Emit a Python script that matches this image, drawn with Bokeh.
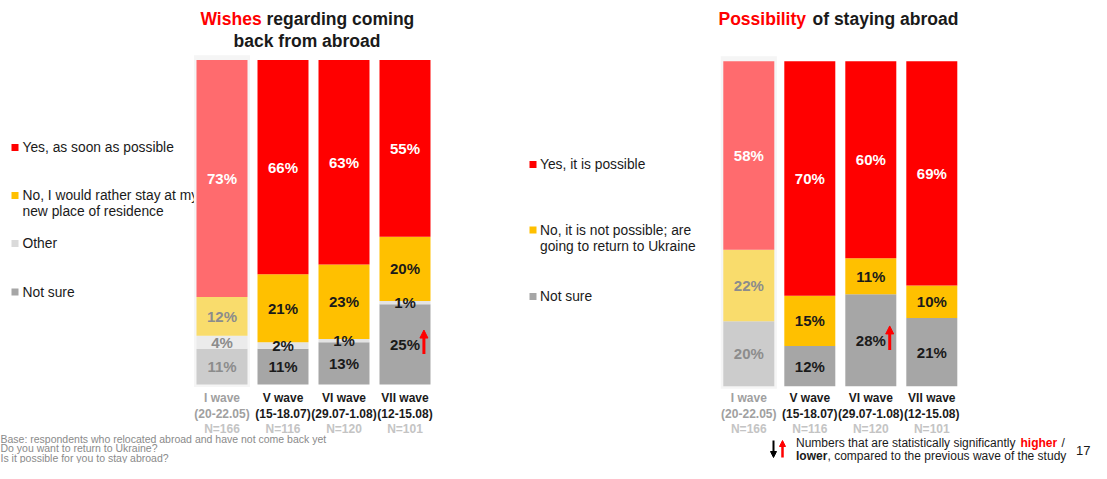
import numpy as np
from bokeh.plotting import figure
from bokeh.models import Range1d, ColumnDataSource, Arrow, NormalHead
from bokeh.embed import file_html
from bokeh.resources import INLINE
from bokeh.core.properties import value

# ---------------- data ----------------
waves = ["I wave", "V wave", "VI wave", "VII wave"]
dates = ["(20-22.05)", "(15-18.07)", "(29.07-1.08)", "(12-15.08)"]
sizes = ["N=166", "N=116", "N=120", "N=101"]

wish_series = ["Yes, as soon as possible", "No, I would rather stay at my\nnew place of residence", "Other", "Not sure"]
wish_yes = [73, 66, 63, 55]
wish_no = [12, 21, 23, 20]
wish_other = [4, 2, 1, 1]
wish_notsure = [11, 11, 13, 25]
wish_notsure_up = [False, False, False, True]

stay_series = ["Yes, it is possible", "No, it is not possible; are\ngoing to return to Ukraine", "Not sure"]
stay_yes = [58, 70, 60, 69]
stay_no = [22, 15, 11, 10]
stay_notsure = [20, 12, 28, 21]
stay_notsure_up = [False, False, True, False]

# ---------------- styles ----------------
FONT = value("Liberation Sans")
W, H = 1091, 463
RED, YEL, OTH, GRY = "#FF0000", "#FFC000", "#E3E3E3", "#A6A6A6"
FADED = {RED: "#FF6B6E", YEL: "#F9DC6C", OTH: "#EBEBEB", GRY: "#CCCCCC"}

p = figure(width=W, height=H, x_range=Range1d(0, W), y_range=Range1d(H, 0),
           x_axis_type=None, y_axis_type=None, output_backend="svg",
           toolbar_location=None, min_border=0, outline_line_color=None)
p.grid.visible = False
p.background_fill_color = "white"


def txt(x, y, s, color="#1A1A1A", size="13.8px", bold=False, align="left"):
    p.text(x=[x], y=[y], text=[s], text_color=color, text_font=FONT,
           text_font_size=size, text_font_style="bold" if bold else "normal",
           text_align=align, text_baseline="middle")


# legends (drawn first so that the bars cover overflowing text, as in the original)
def legend(xsq, xt, entries):
    for (lines, ys, col) in entries:
        p.scatter(x=[xsq], y=[ys[0]], marker="square", size=7, fill_color=col, line_color=None)
        for ln, yy in zip(lines, ys):
            txt(xt, yy, ln)

legend(14.5, 22, [
    (wish_series[0].split("\n"), [147], RED),
    (wish_series[1].split("\n"), [195, 211], YEL),
    (wish_series[2].split("\n"), [243], "#DADADA"),
    (wish_series[3].split("\n"), [291.5], GRY),
])
legend(532.5, 539.5, [
    (stay_series[0].split("\n"), [164], RED),
    (stay_series[1].split("\n"), [229.5, 245.5], YEL),
    (stay_series[2].split("\n"), [296], GRY),
])


def add_ranges(name, center0, step, ytop, ybot):
    xs = -center0 / step
    p.extra_x_ranges[name] = Range1d(xs, xs + W / step)
    s = (ybot - ytop) / 100.0
    ye = ybot / s
    p.extra_y_ranges[name] = Range1d(ye - H / s, ye)


def draw_chart(name, series_vals, colors, up_flags, up_series_idx):
    n = len(waves)
    totals = np.sum(np.array(series_vals, dtype=float), axis=0)
    order = list(range(len(series_vals)))[::-1]
    bottom = np.zeros(n)
    xs = np.arange(n)
    p.quad(left=[-0.46], right=[0.46], bottom=[-0.8], top=[101.5], fill_color="#F5F5F5",
           line_color=None, x_range_name=name, y_range_name=name)
    label_rows = []
    for si in order:
        vals = np.array(series_vals[si], dtype=float)
        h = vals / totals * 100.0
        top = bottom + h
        fills = [FADED[colors[si]] if i == 0 else colors[si] for i in range(n)]
        src = ColumnDataSource(dict(x=xs, bottom=bottom, top=top, fill=fills))
        p.vbar(x="x", width=0.836, bottom="bottom", top="top", fill_color="fill",
               line_color=None, source=src, x_range_name=name, y_range_name=name)
        for i in range(n):
            if colors[si] == RED:
                tc = "white"
            else:
                tc = "#8C8C8C" if i == 0 else "#1A1A1A"
            mid = (bottom[i] + top[i]) / 2
            label_rows.append((i, mid, f"{int(vals[i])}%", tc))
            if si == up_series_idx and up_flags[i]:
                p.add_layout(Arrow(end=NormalHead(size=8, fill_color=RED, line_color=RED),
                                   x_start=i + 0.31, y_start=mid - 3.0,
                                   x_end=i + 0.31, y_end=mid + 4.4,
                                   line_color=RED, line_width=3,
                                   x_range_name=name, y_range_name=name))
        bottom = top
    lsrc = ColumnDataSource(dict(x=[r[0] for r in label_rows], y=[r[1] for r in label_rows],
                                 t=[r[2] for r in label_rows], c=[r[3] for r in label_rows]))
    p.text(x="x", y="y", text="t", text_color="c", source=lsrc, text_font=FONT,
           text_font_style="bold", text_font_size="15px", text_align="center",
           text_baseline="middle", x_range_name=name, y_range_name=name)
    wc = ["#A0A0A0"] + ["#1A1A1A"] * (n - 1)
    for row, yy, cols in ((waves, 397.5, wc), (dates, 413, wc), (sizes, 428.5, ["#C4C4C4"] * n)):
        p.text(x=xs, y=[yy] * n, text=row, text_color=cols, text_font=FONT,
               text_font_style="bold", text_font_size="12px", text_align="center",
               text_baseline="middle", x_range_name=name)


add_ranges("L", 221.5, 61.0, 59.5, 384.0)
add_ranges("R", 748.3, 61.0, 60.7, 385.7)

draw_chart("L", [wish_yes, wish_no, wish_other, wish_notsure], [RED, YEL, OTH, GRY],
           wish_notsure_up, 3)
draw_chart("R", [stay_yes, stay_no, stay_notsure], [RED, YEL, GRY], stay_notsure_up, 2)

# titles
txt(200, 18.5, "Wishes", RED, "17.5px", True)
txt(266, 18.5, "regarding coming", "#1A1A1A", "17.5px", True)
txt(306.5, 40.5, "back from abroad", "#1A1A1A", "17.5px", True, "center")
txt(718, 18.5, "Possibility", RED, "17.5px", True)
txt(812, 18.5, "of staying abroad", "#1A1A1A", "17.5px", True)

# footnotes
FG = "#8A8A8A"
txt(0, 438, "Base: respondents who relocated abroad and have not come back yet", FG, "10.5px")
txt(0, 447.5, "Do you want to return to Ukraine?", FG, "10.5px")
txt(0, 457, "Is it possible for you to stay abroad?", FG, "10.5px")

p.add_layout(Arrow(end=NormalHead(size=6, fill_color="black", line_color="black"),
                   x_start=773, y_start=440, x_end=773, y_end=457,
                   line_color="black", line_width=2))
p.add_layout(Arrow(end=NormalHead(size=6, fill_color=RED, line_color=RED),
                   x_start=782, y_start=457, x_end=782, y_end=440,
                   line_color=RED, line_width=2.5))
txt(795.5, 442, "Numbers that are statistically significantly", "#1A1A1A", "12px")
txt(1020, 442, "higher", RED, "12px", True)
txt(1061, 442, "/", "#1A1A1A", "12px")
txt(795.5, 455, "lower", "#1A1A1A", "12px", True)
txt(827, 455, ", compared to the previous wave of the study", "#1A1A1A", "12px")
txt(1090, 450, "17", "#1A1A1A", "13px", False, "right")

open("out.html", "w").write(file_html(p, INLINE))
